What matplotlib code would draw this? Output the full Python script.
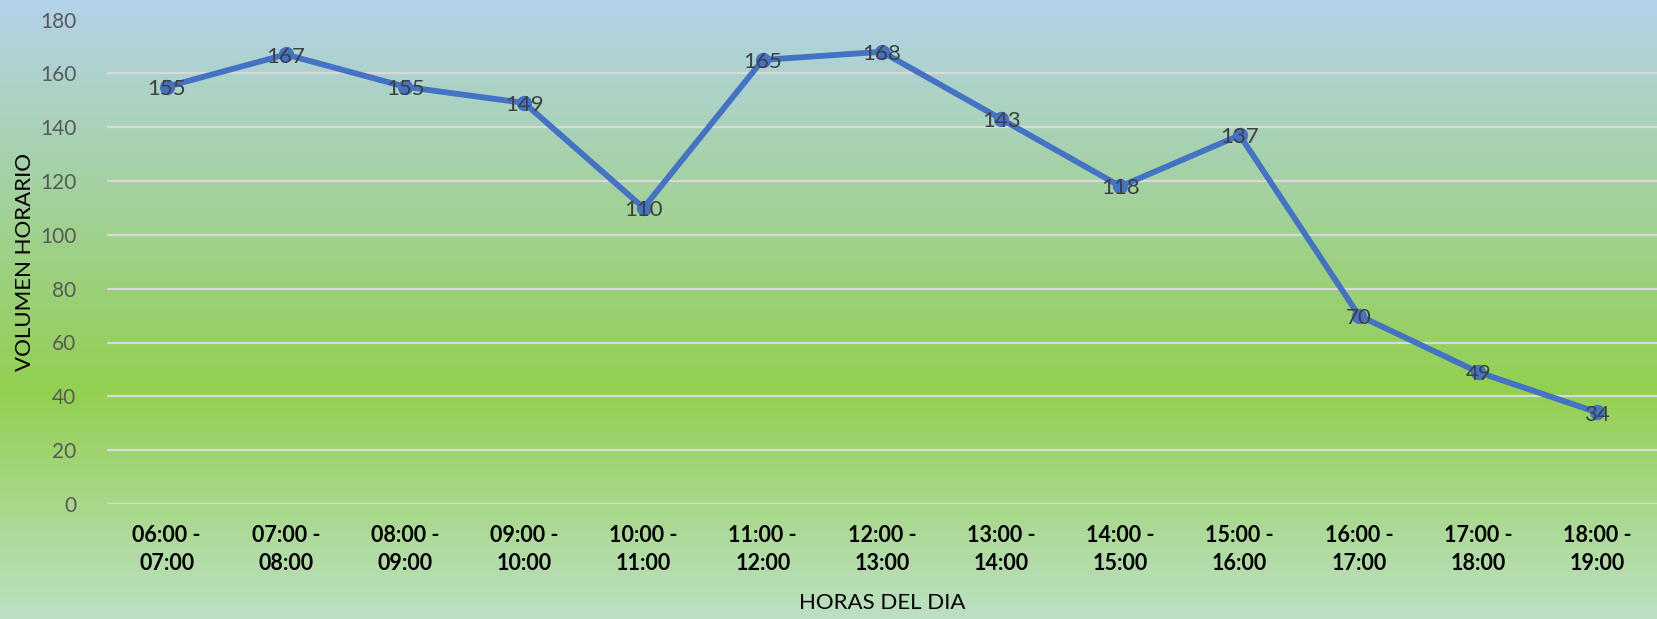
import numpy as np
import matplotlib
matplotlib.use("Agg")
import matplotlib.pyplot as plt
from matplotlib.colors import LinearSegmentedColormap
from matplotlib.transforms import offset_copy

categories = ["06:00 -\n07:00", "07:00 -\n08:00", "08:00 -\n09:00", "09:00 -\n10:00",
              "10:00 -\n11:00", "11:00 -\n12:00", "12:00 -\n13:00", "13:00 -\n14:00",
              "14:00 -\n15:00", "15:00 -\n16:00", "16:00 -\n17:00", "17:00 -\n18:00",
              "18:00 -\n19:00"]
volumen = [155, 167, 155, 149, 110, 165, 168, 143, 118, 137, 70, 49, 34]
y_ticks = [0, 20, 40, 60, 80, 100, 120, 140, 160, 180]

plt.rcParams['font.family'] = ['Lato', 'DejaVu Sans']

W, H = 1658, 619
fig = plt.figure(figsize=(W / 100, H / 100), dpi=100)

# background gradient
bg = fig.add_axes([0, 0, 1, 1], zorder=-10)
cmap = LinearSegmentedColormap.from_list(
    "bg", [(0.0, "#b4d3ea"), (0.63, "#92d050"), (1.0, "#bde0c3")])
grad = np.linspace(0, 1, 256).reshape(-1, 1)
bg.imshow(grad, aspect="auto", cmap=cmap, extent=[0, 1, 1, 0])
bg.set_axis_off()

left, right = 107 / W, 1657 / W
bottom, top = (H - 504) / H, (H - 19.5) / H
ax = fig.add_axes([left, bottom, right - left, top - bottom])
ax.patch.set_alpha(0)

x = np.arange(len(categories))
ax.plot(x, volumen, color="#4472c4", lw=4.2, marker="o", ms=10,
        markeredgecolor="#4472c4", markerfacecolor="#4472c4", zorder=3,
        solid_capstyle="round")
lbl_tr = offset_copy(ax.transData, fig=fig, x=0, y=-1.5, units="points")
for xi, v in zip(x, volumen):
    ax.text(xi, v, str(v), ha="center", va="center", fontsize=16,
            color="#404040", zorder=4, transform=lbl_tr)

ax.set_xlim(-0.5, len(categories) - 0.5)
ax.set_ylim(0, 180)
ax.set_yticks(y_ticks)
ax.yaxis.grid(True, color="#d9d9d9", lw=1.6)
ax.set_axisbelow(True)
for s in ax.spines.values():
    s.set_visible(False)
ax.tick_params(axis="y", length=0, pad=22, labelsize=15, labelcolor="#595959")
ax.set_xticks(x)
ax.set_xticklabels(categories, fontsize=15.5, fontweight="bold", color="black",
                   linespacing=1.4)
ax.tick_params(axis="x", length=0, pad=15)

fig.text((left + right) / 2, (H - 603) / H, "HORAS DEL DIA", ha="center",
         va="center", fontsize=16, color="black")
fig.text(25 / W, (H - 262) / H, "VOLUMEN HORARIO", ha="center", va="center",
         rotation=90, fontsize=16, color="black")

fig.savefig("out.png", dpi=100)
